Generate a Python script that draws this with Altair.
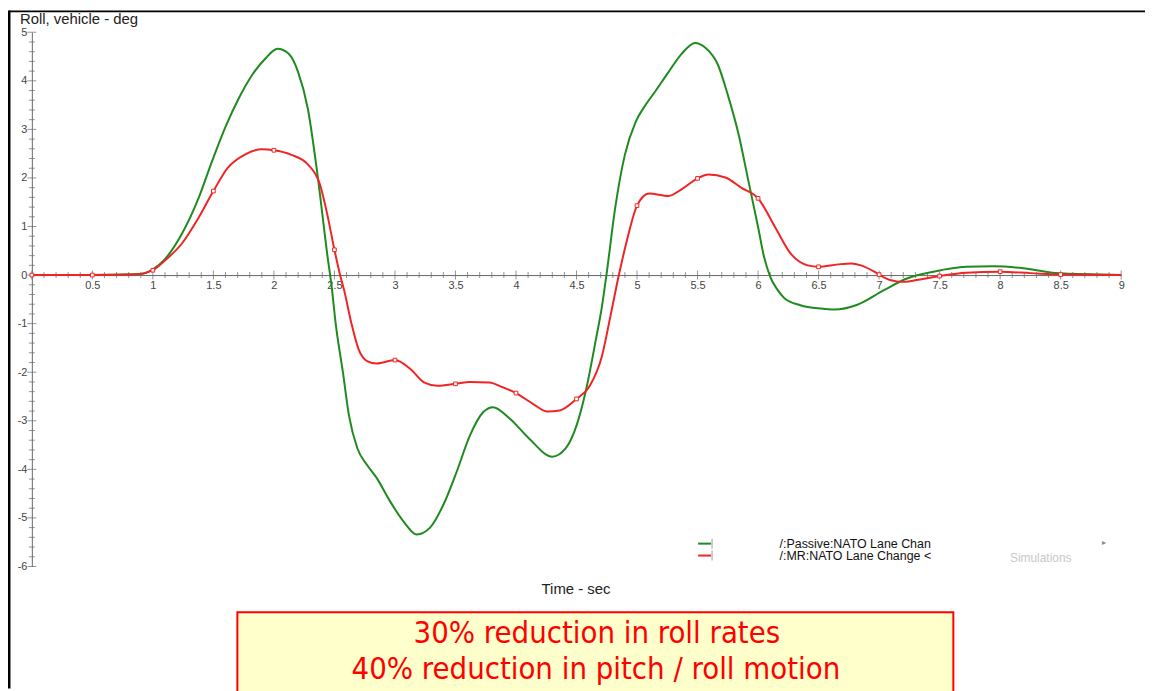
import altair as alt
import pandas as pd

# ---- data ----
t_passive = [0.0, 0.5, 0.9, 1.0, 1.1, 1.24, 1.38, 1.49, 1.6, 1.71, 1.82, 1.93, 2.03, 2.12,
             2.2, 2.28, 2.36, 2.44, 2.48, 2.51, 2.57, 2.62, 2.69, 2.77, 2.85, 2.96, 3.07,
             3.18, 3.29, 3.40, 3.51, 3.62, 3.73, 3.81, 3.95, 4.11, 4.30, 4.41, 4.50, 4.58,
             4.66, 4.71, 4.75, 4.82, 4.90, 4.99, 5.07, 5.15, 5.26, 5.37, 5.48, 5.56, 5.67,
             5.75, 5.84, 5.92, 6.0, 6.05, 6.1, 6.16, 6.22, 6.35, 6.52, 6.63, 6.82, 7.04,
             7.23, 7.45, 7.72, 7.94, 8.19, 8.43, 8.82, 9.0]
v_passive = [0.0, 0.0, 0.02, 0.12, 0.33, 0.85, 1.6, 2.35, 3.05, 3.64, 4.12, 4.46, 4.66, 4.56,
             4.18, 3.43, 2.07, 0.44, -0.3, -0.99, -2.0, -2.89, -3.57, -3.91, -4.18, -4.66, -5.07,
             -5.34, -5.2, -4.73, -4.05, -3.3, -2.82, -2.72, -2.96, -3.37, -3.74, -3.57, -3.1, -2.35,
             -1.33, -0.65, 0.05, 1.39, 2.48, 3.16, 3.5, 3.78, 4.18, 4.56, 4.78, 4.69, 4.32,
             3.71, 2.89, 1.94, 0.99, 0.37, -0.03, -0.3, -0.48, -0.62, -0.69, -0.71, -0.61, -0.31,
             -0.07, 0.07, 0.17, 0.18, 0.14, 0.05, 0.01, 0.0]

t_mr = [0.0, 0.5, 0.85, 1.0, 1.1, 1.24, 1.38, 1.5, 1.62, 1.76, 1.9, 2.0, 2.14, 2.28, 2.38,
        2.44, 2.5, 2.55, 2.58, 2.64, 2.70, 2.77, 2.85, 3.0, 3.13, 3.24, 3.35, 3.5, 3.62, 3.78,
        3.89, 4.0, 4.14, 4.26, 4.36, 4.5, 4.61, 4.71, 4.78, 4.85, 4.92, 5.0, 5.1, 5.26, 5.37,
        5.5, 5.59, 5.73, 5.86, 6.0, 6.14, 6.27, 6.41, 6.5, 6.66, 6.77, 6.85, 6.96, 7.0, 7.09,
        7.2, 7.34, 7.5, 7.72, 8.0, 8.25, 8.5, 9.0]
v_mr = [0.0, 0.0, 0.01, 0.1, 0.3, 0.65, 1.19, 1.73, 2.21, 2.48, 2.59, 2.57, 2.48, 2.28, 1.87,
        1.26, 0.52, -0.03, -0.31, -0.99, -1.53, -1.77, -1.82, -1.75, -1.94, -2.21, -2.28, -2.24, -2.2, -2.21,
        -2.31, -2.43, -2.65, -2.81, -2.79, -2.55, -2.28, -1.67, -0.85, 0.0, 0.75, 1.43, 1.68, 1.63, 1.77,
        1.99, 2.07, 2.01, 1.8, 1.58, 0.99, 0.44, 0.2, 0.17, 0.22, 0.24, 0.2, 0.07, 0.01, -0.1,
        -0.14, -0.09, -0.02, 0.05, 0.07, 0.04, 0.01, 0.0]

x_label_values = [0, 0.5, 1, 1.5, 2, 2.5, 3, 3.5, 4, 4.5, 5, 5.5, 6, 6.5, 7, 7.5, 8, 8.5, 9]
y_label_values = [-6, -5, -4, -3, -2, -1, 0, 1, 2, 3, 4, 5]
x_minor = [round(i * 0.1, 1) for i in range(0, 91)]
y_minor = [round(-6 + i * 0.2, 1) for i in range(0, 56)]

legend_labels = ["/:Passive:NATO Lane Chan", "/:MR:NATO Lane Change <"]
y_title = "Roll, vehicle - deg"
x_title = "Time - sec"
box_lines = ["30% reduction in roll rates", "40% reduction in pitch / roll motion"]

GREEN = "#1f8a1f"
RED = "#f02424"
AXIS = "#666666"
FONT = "Liberation Sans"
NARROW = "'DejaVu Sans Condensed', 'Liberation Sans Narrow', 'Arial Narrow', Roboto, sans-serif"

passive = pd.DataFrame({"t": t_passive, "v": v_passive})
mr = pd.DataFrame({"t": t_mr, "v": v_mr})
mr_markers = mr[(mr["t"] * 2) % 1 == 0]
mr_markers = mr_markers[mr_markers["t"] < 9]

W, H = 1097, 538
xs = alt.Scale(domain=[0, 9], nice=False, zero=False)
ys = alt.Scale(domain=[-6, 5], nice=False, zero=False)

base_axis_x = alt.Axis(
    values=x_label_values, labelExpr="datum.value == 0 ? '' : toString(datum.value)",
    ticks=False, domain=True, domainColor=AXIS, grid=False, title=None,
    offset=-(H * 6 / 11), labelFont=FONT, labelFontSize=11, labelColor="#444",
    labelPadding=5, labelFlush=False,
)
base_axis_y = alt.Axis(
    values=y_label_values, labelExpr="toString(datum.value)", ticks=False, domain=True,
    domainColor=AXIS, grid=False, title=None, labelFont=FONT, labelFontSize=11,
    labelColor="#444", labelPadding=5, labelFlush=False,
)

green_line = alt.Chart(passive).mark_line(
    color=GREEN, strokeWidth=2, interpolate="monotone"
).encode(
    x=alt.X("t:Q", scale=xs, axis=base_axis_x),
    y=alt.Y("v:Q", scale=ys, axis=base_axis_y),
)

red_line = alt.Chart(mr).mark_line(
    color=RED, strokeWidth=2, interpolate="monotone"
).encode(x=alt.X("t:Q", scale=xs), y=alt.Y("v:Q", scale=ys))

red_pts = alt.Chart(mr_markers).mark_point(
    shape="square", filled=True, fill="white", stroke=RED, strokeWidth=1, size=14, opacity=1
).encode(x=alt.X("t:Q", scale=xs), y=alt.Y("v:Q", scale=ys))

xticks_df = pd.DataFrame({"t": x_minor})
xticks_df["major"] = [abs(v * 2 - round(v * 2)) < 1e-6 for v in x_minor]
x_ticks = alt.Chart(xticks_df).mark_tick(
    orient="vertical", color=AXIS, thickness=1
).encode(
    x=alt.X("t:Q", scale=xs),
    y=alt.YDatum(0),
    size=alt.condition("datum.major", alt.value(9), alt.value(6)),
)

yticks_df = pd.DataFrame({"v": y_minor})
yticks_df["major"] = [abs(v - round(v)) < 1e-6 for v in y_minor]
y_ticks = alt.Chart(yticks_df).mark_tick(
    orient="horizontal", color=AXIS, thickness=1
).encode(
    y=alt.Y("v:Q", scale=ys),
    x=alt.XDatum(0),
    size=alt.condition("datum.major", alt.value(9), alt.value(6)),
)

one = pd.DataFrame({"a": [0]})


def text(label, x, y, size=12, color="#222", align="left", font=FONT, baseline="middle"):
    return alt.Chart(one).mark_text(
        align=align, baseline=baseline, fontSize=size, color=color, font=font
    ).encode(x=alt.value(x), y=alt.value(y), text=alt.value(label))


def rule(x, x2, y, y2, color, width):
    return alt.Chart(one).mark_rule(color=color, strokeWidth=width).encode(
        x=alt.value(x), x2=alt.value(x2), y=alt.value(y), y2=alt.value(y2)
    )


# titles
title_y = text(y_title, -12, -13, size=15, color="#222")
title_x = text(x_title, 548, 561, size=15, color="#222", align="center")

# legend
leg = [
    rule(671, 684, 515, 515, GREEN, 2),
    rule(685, 685, 510, 520, "#999", 1),
    rule(671, 684, 527, 527, RED, 2),
    rule(685, 685, 522, 532, "#999", 1),
    text(legend_labels[0], 753, 515, size=12.5, color="#111"),
    text(legend_labels[1], 753, 527, size=12.5, color="#111"),
    text("\u25B8", 1078, 514, size=8, color="#888"),
    text("Simulations", 985, 529, size=12, color="#c8c8c8"),
]

# frame borders
frame = [
    rule(-23, 1121, -21, -21, "#000", 2),
    rule(-23, -23, -22, 661, "#000", 3),
]

# annotation box
box = alt.Chart(one).mark_rect(
    fill="#ffffcc", stroke="#ff0000", strokeWidth=2
).encode(x=alt.value(207), x2=alt.value(928), y=alt.value(584), y2=alt.value(700))
box_t1 = text(box_lines[0], 569, 606, size=31, color="#ff0000", align="center", font=NARROW)
box_t2 = text(box_lines[1], 568, 642, size=31, color="#ff0000", align="center", font=NARROW)

chart = alt.layer(
    x_ticks, y_ticks, green_line, red_line, red_pts, title_y, title_x, *leg, *frame,
    box, box_t1, box_t2,
).properties(
    width=W, height=H,
    autosize=alt.AutoSizeParams(type="none"),
    padding={"left": 24, "top": 22, "right": 24, "bottom": 123},
    background="white",
).configure_view(stroke=None)

chart.save("out.html", embed_options={"renderer": "svg", "actions": False})
